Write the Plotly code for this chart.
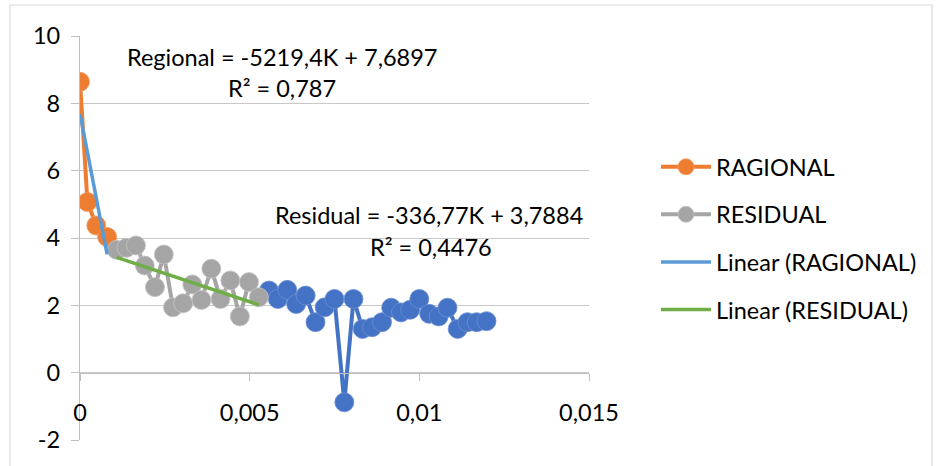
import plotly.graph_objects as go

# ---------------- data ----------------
regional_x = [0.0000, 0.00022, 0.00048, 0.00080]
regional_y = [8.64, 5.07, 4.37, 4.03]

residual_x = [0.00108, 0.00137, 0.00165, 0.00191, 0.00221, 0.00247, 0.00274, 0.00304,
              0.00331, 0.00358, 0.00387, 0.00414, 0.00443, 0.00471, 0.00498, 0.00527]
residual_y = [3.65, 3.71, 3.78, 3.18, 2.54, 3.51, 1.94, 2.06,
              2.62, 2.16, 3.09, 2.19, 2.74, 1.67, 2.69, 2.24]

third_x = [0.00557, 0.00583, 0.00611, 0.00637, 0.00665, 0.00694, 0.00721, 0.00750,
           0.00779, 0.00806, 0.00833, 0.00861, 0.00890, 0.00917, 0.00946, 0.00973,
           0.01000, 0.01029, 0.01057, 0.01083, 0.01113, 0.01142, 0.01169, 0.01198]
third_y = [2.44, 2.19, 2.46, 2.04, 2.29, 1.50, 1.94, 2.19,
           -0.88, 2.19, 1.30, 1.35, 1.50, 1.93, 1.79, 1.87,
           2.19, 1.75, 1.67, 1.93, 1.30, 1.50, 1.50, 1.53]

# trendline coefficients (as printed on chart)
reg_slope, reg_intercept, reg_r2 = -5219.4, 7.6897, "0,787"
res_slope, res_intercept, res_r2 = -336.77, 3.7884, "0,4476"

x_ticks = [0, 0.005, 0.01, 0.015]
x_tick_labels = ["0", "0,005", "0,01", "0,015"]
y_ticks = [-2, 0, 2, 4, 6, 8, 10]
y_tick_labels = ["-2", "0", "2", "4", "6", "8", "10"]

# ---------------- style ----------------
FONT = "Lato"
FS = 23.5
ORANGE = "#ED7D31"
GRAY = "#A5A5A5"
BLUE = "#4472C4"
TBLUE = "#5B9BD5"
GREEN = "#70AD47"
MS = 19
LW = 4

def trend(xs, m, b):
    x0, x1 = min(xs), max(xs)
    return [x0, x1], [m * x0 + b, m * x1 + b]

fig = go.Figure()

fig.add_trace(go.Scatter(
    x=third_x, y=third_y, mode="lines+markers", showlegend=False,
    line=dict(color=BLUE, width=LW),
    marker=dict(size=MS, color=BLUE, line=dict(color="#6C8FD3", width=0.8)),
))
fig.add_trace(go.Scatter(
    x=regional_x, y=regional_y, mode="lines+markers", name="RAGIONAL",
    legendgroup="a",
    line=dict(color=ORANGE, width=LW),
    marker=dict(size=MS, color=ORANGE, line=dict(color="#F29B63", width=0.8)),
))
fig.add_trace(go.Scatter(
    x=residual_x, y=residual_y, mode="lines+markers", name="RESIDUAL",
    legendgroup="b",
    line=dict(color=GRAY, width=LW),
    marker=dict(size=MS, color=GRAY, line=dict(color="#C4C4C4", width=0.8)),
))
tx, ty = trend(regional_x, reg_slope, reg_intercept)
fig.add_trace(go.Scatter(
    x=tx, y=ty, mode="lines", name="Linear (RAGIONAL)", legendgroup="c",
    line=dict(color=TBLUE, width=3.5),
))
tx, ty = trend(residual_x, res_slope, res_intercept)
fig.add_trace(go.Scatter(
    x=tx, y=ty, mode="lines", name="Linear (RESIDUAL)", legendgroup="d",
    line=dict(color=GREEN, width=3.5),
))

def fmt(v):
    return f"{v}".replace(".", ",")

ann_font = dict(family=FONT, size=FS, color="#000000")
annotations = [
    dict(x=0.00594, y=9.375, text=f"Regional = {fmt(reg_slope)}K + {fmt(reg_intercept)}"),
    dict(x=0.00594, y=8.45, text=f"R² = {reg_r2}"),
    dict(x=0.01029, y=4.67, text=f"Residual = {fmt(res_slope)}K + {fmt(res_intercept)}"),
    dict(x=0.01035, y=3.72, text=f"R² = {res_r2}"),
]
for a in annotations:
    a.update(xref="x", yref="y", showarrow=False, font=ann_font,
             xanchor="center", yanchor="middle")

L, R, T, B = 80, 351, 36, 26
PW, PH = 940 - L - R, 466 - T - B

def px(xp):
    return (xp - L) / PW

def py(yp):
    return (466 - B - yp) / PH

fig.update_layout(
    width=940, height=466,
    margin=dict(l=L, r=R, t=T, b=B, autoexpand=False),
    paper_bgcolor="white", plot_bgcolor="white",
    font=dict(family=FONT, size=FS, color="#000000"),
    annotations=annotations,
    showlegend=True,
    legend=dict(
        x=px(656), y=py(145), xanchor="left", yanchor="top",
        font=dict(family=FONT, size=FS, color="#000000"),
        traceorder="grouped", tracegroupgap=14,
        itemwidth=50, bgcolor="rgba(0,0,0,0)",
    ),
    shapes=[dict(type="rect", xref="paper", yref="paper",
                 x0=px(10), x1=px(932), y0=py(5), y1=py(475),
                 line=dict(color="#D9D9D9", width=1.2), fillcolor="rgba(0,0,0,0)",
                 layer="below")],
)

fig.update_xaxes(
    range=[0, 0.015], tickvals=x_ticks, ticktext=x_tick_labels,
    anchor="free", position=(0 - (-2)) / (10 - (-2)),
    showline=True, linecolor="#BFBFBF", linewidth=1.2,
    ticks="outside", ticklen=7, tickcolor="#BFBFBF", tickwidth=1.2,
    showgrid=False, zeroline=False,
    tickfont=dict(family=FONT, size=FS, color="#000000"),
    ticklabelstandoff=12,
)
fig.update_yaxes(
    range=[-2, 10], tickvals=y_ticks, ticktext=y_tick_labels,
    showline=True, linecolor="#BFBFBF", linewidth=1.2,
    ticks="outside", ticklen=8, tickcolor="#BFBFBF", tickwidth=1.2,
    showgrid=True, gridcolor="#C8C8C8", gridwidth=1.2, zeroline=False,
    tickfont=dict(family=FONT, size=FS, color="#000000"),
    ticklabelstandoff=6,
)

fig.write_html("out.html", config={"displayModeBar": False},
               post_script="document.body.style.margin='0';")
